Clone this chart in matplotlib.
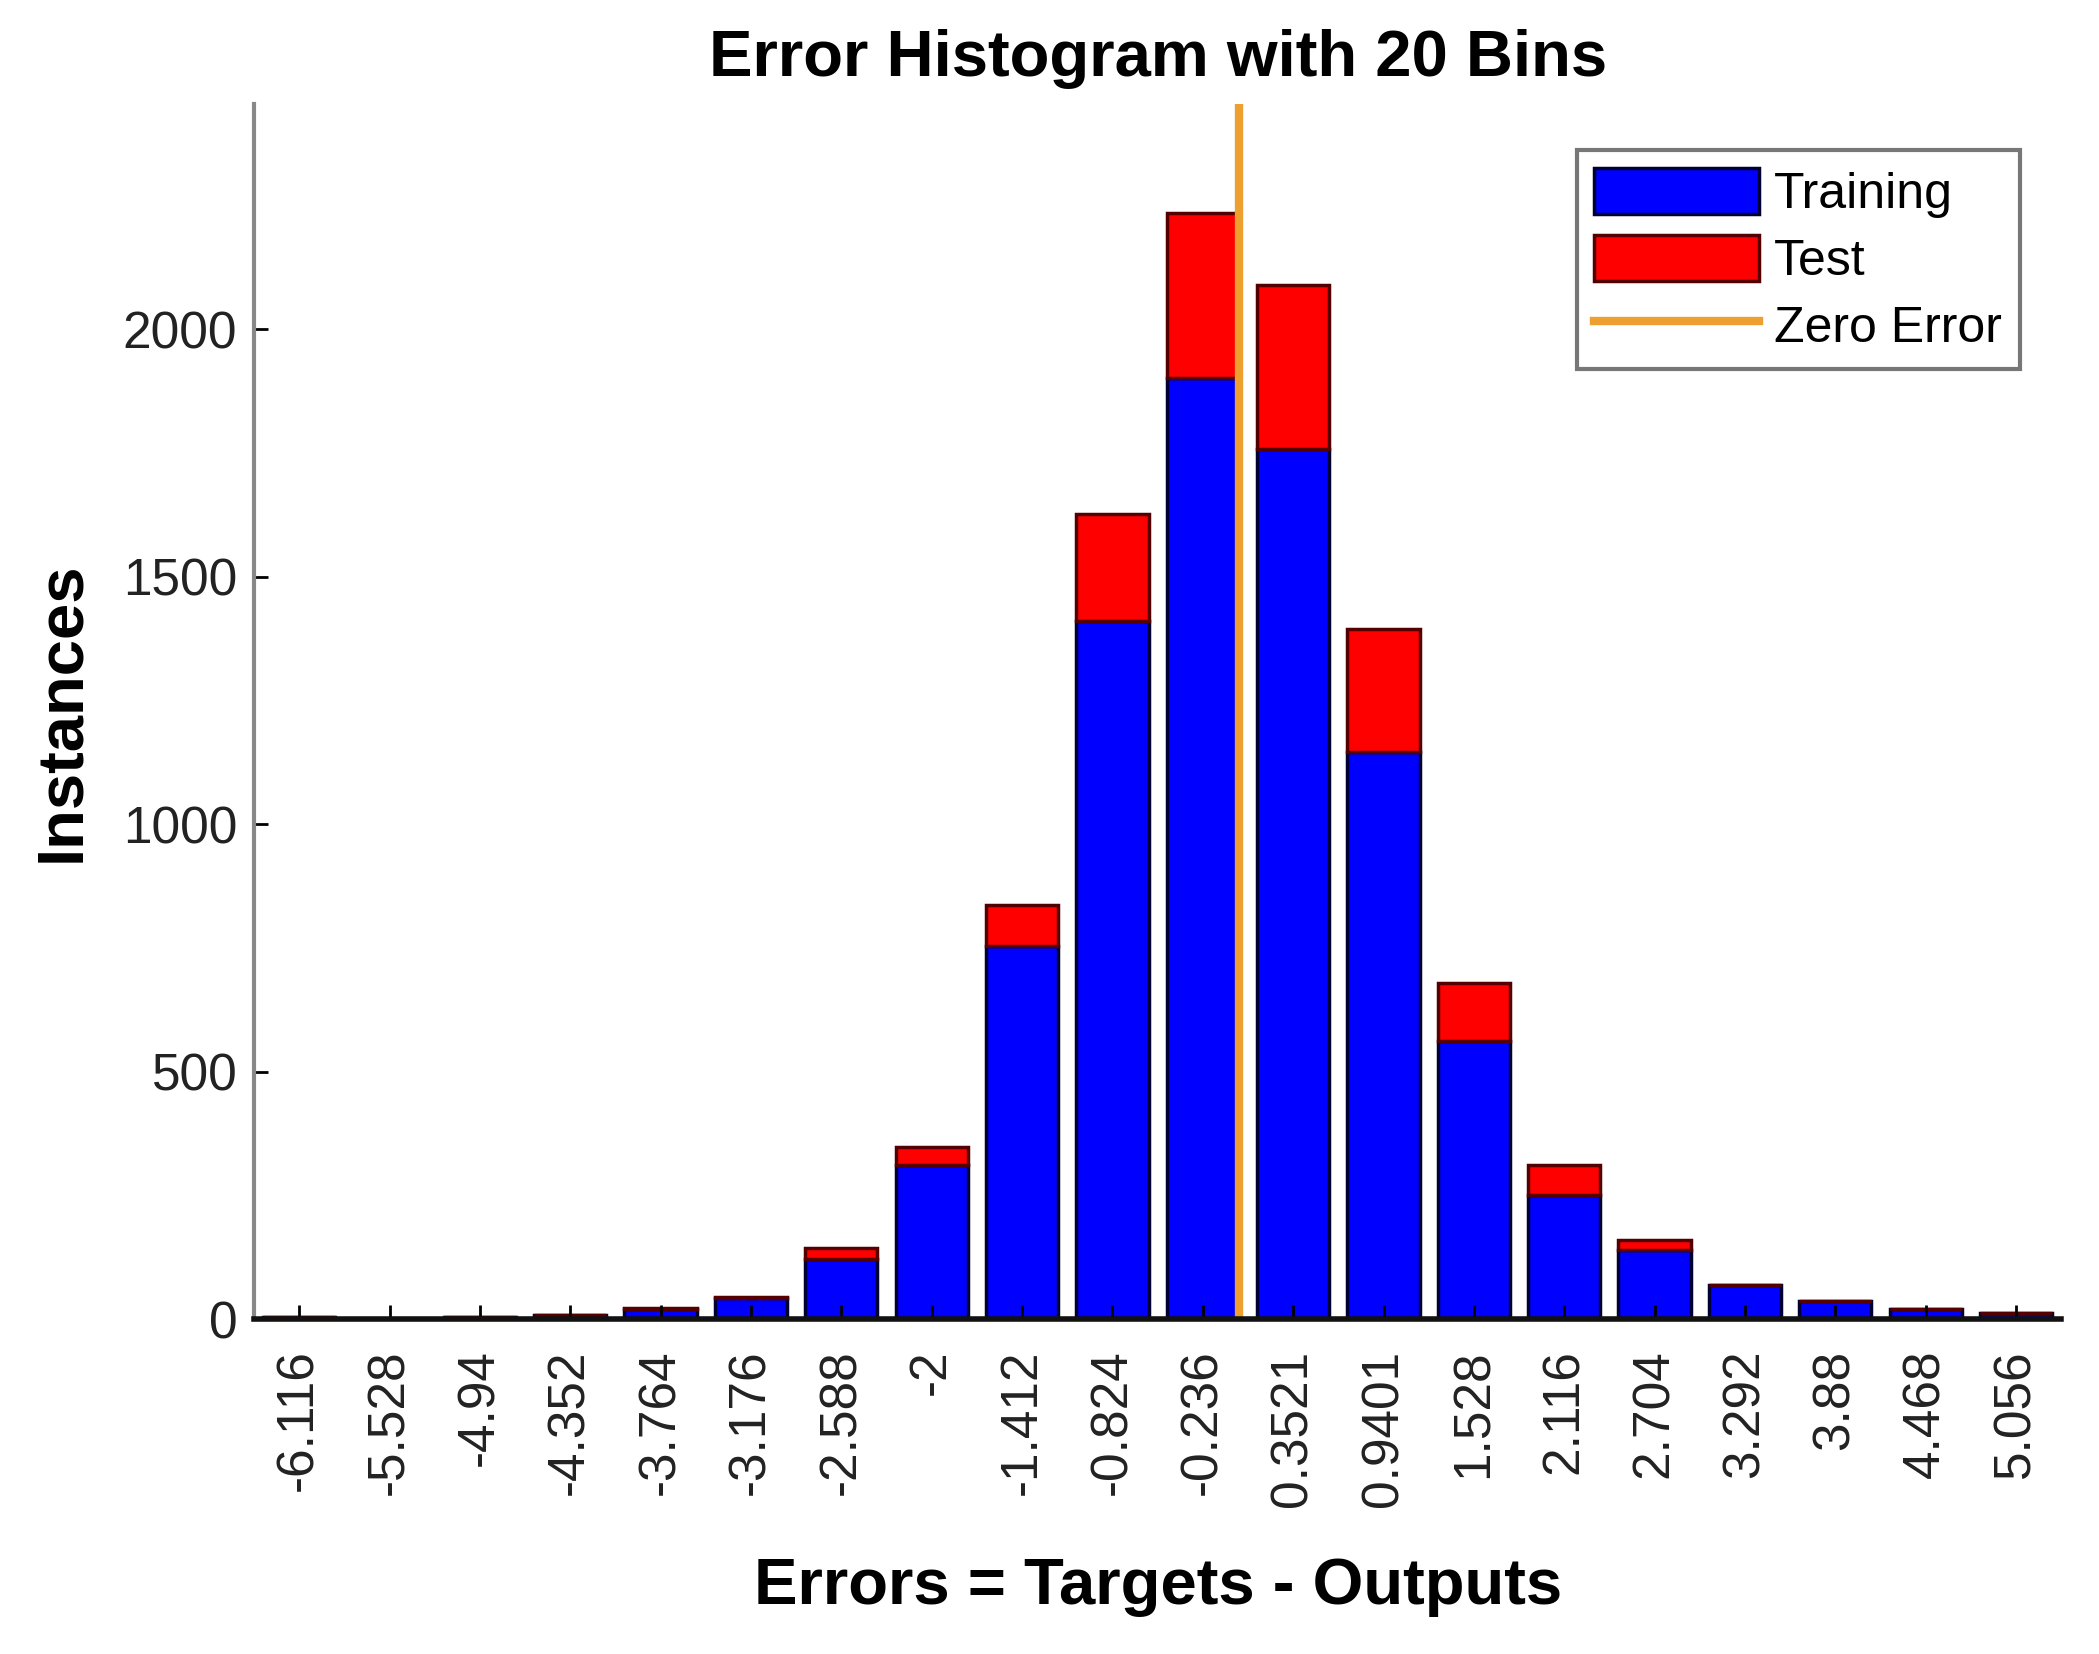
import matplotlib
matplotlib.use("Agg")
import matplotlib.pyplot as plt
import numpy as np

bin_centers = [-6.116, -5.528, -4.94, -4.352, -3.764, -3.176, -2.588, -2.0, -1.412, -0.824,
               -0.236, 0.3521, 0.9401, 1.528, 2.116, 2.704, 3.292, 3.88, 4.468, 5.056]
tick_labels = ["-6.116", "-5.528", "-4.94", "-4.352", "-3.764", "-3.176", "-2.588", "-2", "-1.412", "-0.824",
               "-0.236", "0.3521", "0.9401", "1.528", "2.116", "2.704", "3.292", "3.88", "4.468", "5.056"]
training = [5, 1, 5, 8, 20, 42, 122, 312, 753, 1410, 1902, 1759, 1145, 561, 250, 139, 68, 36, 20, 12]
test = [0, 0, 0, 0, 2, 3, 22, 35, 83, 216, 333, 330, 249, 119, 62, 21, 1, 1, 1, 0]

plt.rcParams['font.family'] = ['Liberation Sans', 'DejaVu Sans']

fig = plt.figure(figsize=(20.99, 16.54), dpi=100)
ax = fig.add_axes([0.121, 0.2025, 0.861, 0.7345])

width = 0.8 * 0.588
h_train = ax.bar(bin_centers, training, width=width, color='#0000FF', edgecolor='#000033', linewidth=2.5, label='Training')
h_test = ax.bar(bin_centers, test, width=width, bottom=training, color='#FF0000', edgecolor='#550000', linewidth=2.5, label='Test')
h_zero = ax.axvline(0, color='#EDA030', linewidth=6, label='Zero Error')

ax.set_xlim(-6.41, 5.35)
ax.set_ylim(0, 2455)
ax.set_xticks(bin_centers)
ax.set_xticklabels(tick_labels, rotation=90, fontsize=37, color='#222222')
ax.set_yticks([0, 500, 1000, 1500, 2000])
ax.tick_params(axis='y', labelsize=37, labelcolor='#222222', direction='in', length=10, width=2, pad=12)
ax.tick_params(axis='x', direction='in', length=10, width=2, pad=22)

for s in ['top', 'right']:
    ax.spines[s].set_visible(False)
ax.spines['left'].set_color('#888888')
ax.spines['left'].set_linewidth(3)
ax.spines['bottom'].set_color('#111111')
ax.spines['bottom'].set_linewidth(4)

ax.set_title('Error Histogram with 20 Bins', fontsize=47, fontweight='bold', pad=20)
ax.set_xlabel('Errors = Targets - Outputs', fontsize=47, fontweight='bold', labelpad=36)
ax.set_ylabel('Instances', fontsize=47, fontweight='bold', labelpad=22)

leg = ax.legend([h_train, h_test, h_zero], ['Training', 'Test', 'Zero Error'],
                loc='upper right', bbox_to_anchor=(0.977, 0.962), fontsize=36, frameon=True, fancybox=False,
                edgecolor='#555555', handlelength=3.3, handleheight=1.05, borderpad=0.35, labelspacing=0.33,
                handletextpad=0.3, borderaxespad=0)
leg.get_frame().set_linewidth(3)

fig.savefig('out.png', dpi=100)
